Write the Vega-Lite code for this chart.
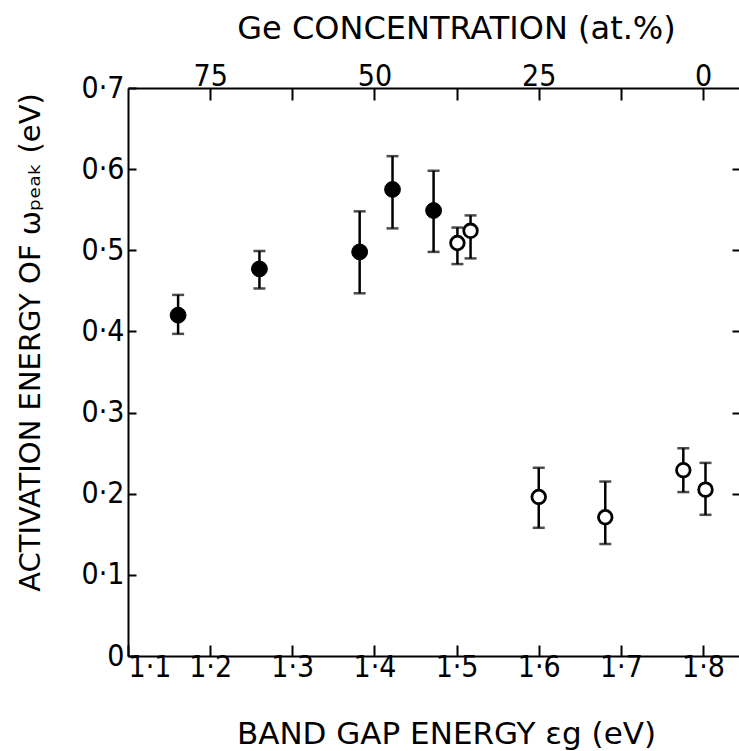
{
  "$schema": "https://vega.github.io/schema/vega-lite/v6.json",
  "width": 612,
  "height": 568,
  "autosize": {"type": "none"},
  "padding": {"left": 128, "top": 88, "right": 0, "bottom": 95},
  "background": "white",
  "config": {
    "view": {"stroke": null},
    "axis": {
      "grid": false,
      "domainColor": "black",
      "domainWidth": 2,
      "tickColor": "black",
      "tickWidth": 2,
      "labelColor": "black",
      "titleColor": "black",
      "labelFont": "DejaVu Sans Condensed, DejaVu Sans, sans-serif",
      "titleFont": "DejaVu Sans, sans-serif",
      "labelFontSize": 30,
      "titleFontSize": 31,
      "titleFontWeight": "normal"
    }
  },
  "datasets": {
    "pts": [
      {"eg": 1.161, "E": 0.420, "lo": 0.397, "hi": 0.445, "kind": "filled"},
      {"eg": 1.260, "E": 0.477, "lo": 0.453, "hi": 0.499, "kind": "filled"},
      {"eg": 1.382, "E": 0.498, "lo": 0.447, "hi": 0.548, "kind": "filled"},
      {"eg": 1.422, "E": 0.575, "lo": 0.527, "hi": 0.616, "kind": "filled"},
      {"eg": 1.472, "E": 0.549, "lo": 0.498, "hi": 0.598, "kind": "filled"},
      {"eg": 1.501, "E": 0.509, "lo": 0.483, "hi": 0.528, "kind": "open"},
      {"eg": 1.517, "E": 0.524, "lo": 0.490, "hi": 0.543, "kind": "open"},
      {"eg": 1.600, "E": 0.196, "lo": 0.158, "hi": 0.232, "kind": "open"},
      {"eg": 1.681, "E": 0.171, "lo": 0.138, "hi": 0.215, "kind": "open"},
      {"eg": 1.776, "E": 0.229, "lo": 0.202, "hi": 0.256, "kind": "open"},
      {"eg": 1.803, "E": 0.205, "lo": 0.174, "hi": 0.238, "kind": "open"}
    ],
    "ge": [{"ge": 75, "E": 0.7}, {"ge": 0, "E": 0}]
  },
  "layer": [
    {
      "data": {"name": "pts"},
      "encoding": {
        "x": {
          "field": "eg", "type": "quantitative", "title": "BAND GAP ENERGY εg (eV)",
          "scale": {"domain": [1.1, 1.845], "nice": false, "zero": false},
          "axis": {
            "orient": "bottom",
            "values": [1.1, 1.2, 1.3, 1.4, 1.5, 1.6, 1.7, 1.8],
            "labelExpr": "replace(format(datum.value, '.1f'), '.', '·')",
            "tickSize": -11,
            "labelPadding": 7,
            "titlePadding": 37,
            "titleX": 318
          }
        }
      },
      "layer": [
        {
          "mark": {"type": "rule", "color": "black", "strokeWidth": 2.5},
          "encoding": {
            "y": {"field": "lo", "type": "quantitative", "title": "ACTIVATION ENERGY OF ωₚₑₐₖ (eV)",
              "scale": {"domain": [0, 0.7], "nice": false},
              "axis": {
                "orient": "left",
                "values": [0, 0.1, 0.2, 0.3, 0.4, 0.5, 0.6, 0.7],
                "labelExpr": "datum.value == 0 ? '0' : replace(format(datum.value, '.1f'), '.', '·')",
                "tickSize": -8,
                "labelPadding": 12,
                "titlePadding": 36,
                "titleFontSize": 29,
                "titleY": 254
              }
            },
            "y2": {"field": "hi"}
          }
        },
        {
          "mark": {"type": "tick", "orient": "horizontal", "color": "black", "size": 12, "thickness": 2.5},
          "encoding": {"y": {"field": "lo", "type": "quantitative", "title": "ACTIVATION ENERGY OF ωₚₑₐₖ (eV)"}}
        },
        {
          "mark": {"type": "tick", "orient": "horizontal", "color": "black", "size": 12, "thickness": 2.5},
          "encoding": {"y": {"field": "hi", "type": "quantitative", "title": "ACTIVATION ENERGY OF ωₚₑₐₖ (eV)"}}
        },
        {
          "transform": [{"filter": "datum.kind == 'filled'"}],
          "mark": {"type": "point", "shape": "circle", "filled": true, "fill": "black", "stroke": "black", "strokeWidth": 1, "size": 250, "opacity": 1},
          "encoding": {"y": {"field": "E", "type": "quantitative", "title": "ACTIVATION ENERGY OF ωₚₑₐₖ (eV)"}}
        },
        {
          "transform": [{"filter": "datum.kind == 'open'"}],
          "mark": {"type": "point", "shape": "circle", "filled": true, "fill": "white", "stroke": "black", "strokeWidth": 2.8, "size": 185, "opacity": 1},
          "encoding": {"y": {"field": "E", "type": "quantitative", "title": "ACTIVATION ENERGY OF ωₚₑₐₖ (eV)"}}
        }
      ]
    },
    {
      "data": {"name": "ge"},
      "mark": {"type": "point", "opacity": 0},
      "encoding": {
        "x": {
          "field": "ge", "type": "quantitative", "title": "Ge CONCENTRATION (at.%)",
          "scale": {"domain": [87.5, -5.625], "nice": false, "zero": false},
          "axis": {
            "orient": "top",
            "values": [75, 62.5, 50, 37.5, 25, 12.5, 0],
            "labelExpr": "datum.value % 25 == 0 ? format(datum.value, 'd') : ''",
            "tickSize": -12,
            "labelPadding": 9,
            "titlePadding": 16,
            "titleFontSize": 32,
            "titleX": 328
          }
        },
        "y": {
          "field": "E", "type": "quantitative", "title": null,
          "scale": {"domain": [0, 0.7], "nice": false},
          "axis": {
            "orient": "right",
            "values": [0.2, 0.3, 0.4, 0.5, 0.6],
            "labels": false,
            "domain": false,
            "tickSize": -8
          }
        }
      }
    }
  ],
  "resolve": {"scale": {"x": "independent", "y": "independent"}}
}
